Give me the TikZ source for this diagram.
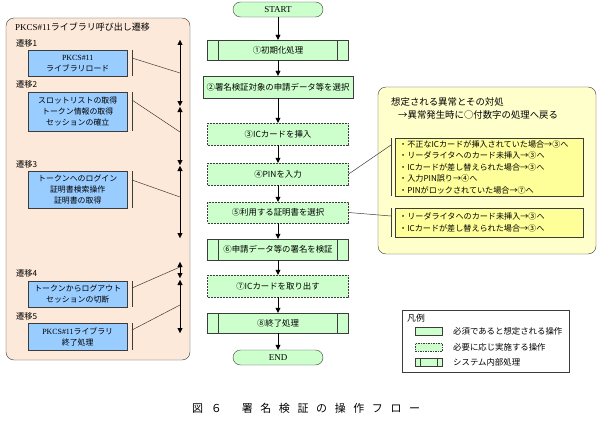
\documentclass[tikz,border=0pt]{standalone}
\usepackage{fontspec}
\setmainfont{Noto Sans CJK JP}
\newfontfamily\lat{Liberation Serif}
\usetikzlibrary{arrows.meta}
\definecolor{cPeach}{RGB}{253,233,217}
\definecolor{cBlue}{RGB}{153,204,255}
\definecolor{cGreen}{RGB}{204,255,204}
\definecolor{cYelPanel}{RGB}{255,255,204}
\definecolor{cYelBox}{RGB}{255,255,153}
\definecolor{cEdge}{RGB}{60,60,60}
\newcommand\capsp{\hspace{7.6pt}}
\tikzset{
  flowbox/.style={draw=cEdge, fill=cGreen, minimum width=141pt, minimum height=22pt, inner sep=0pt, font=\fontsize{8.4}{10}\selectfont},
  optbox/.style={flowbox, dash pattern=on 2pt off 1pt},
  sysbox/.style={flowbox, path picture={
      \draw[cEdge] ([xshift=11pt]path picture bounding box.north west) -- ([xshift=11pt]path picture bounding box.south west)
                   ([xshift=-11pt]path picture bounding box.north east) -- ([xshift=-11pt]path picture bounding box.south east);}},
  termbox/.style={draw=cEdge, fill=cGreen, rounded corners=7.5pt, minimum width=90pt, minimum height=15pt, inner sep=0pt, font=\lat\fontsize{9}{10}\selectfont},
  bluebox/.style={draw=cEdge, fill=cBlue, minimum width=99pt, inner sep=0pt, align=center, anchor=north west, font=\fontsize{7.9}{11}\selectfont},
  steplabel/.style={anchor=west, inner sep=0pt, font=\fontsize{8.2}{10}\selectfont},
  flowarrow/.style={draw=black, -{Triangle[length=5pt,width=5pt]}},
  dblarrow/.style={draw=black, {Triangle[length=5pt,width=5pt]}-{Triangle[length=5pt,width=5pt]}},
  linkline/.style={draw=cEdge, line width=0.5pt},
  itembox/.style={draw=cEdge, fill=cYelBox, anchor=north west, text width=180pt, inner xsep=4pt, inner ysep=0pt, align=left, font=\fontsize{8.1}{11.6}\selectfont},
  legsym/.style={draw=cEdge, fill=cGreen, minimum width=27pt, minimum height=8pt, inner sep=0pt},
  legtext/.style={anchor=west, inner sep=0pt, font=\fontsize{8.4}{10}\selectfont}
}
\begin{document}
\begin{tikzpicture}[x=1pt,y=-1pt]
\useasboundingbox[fill=white] (0,0) rectangle (600,428);

% ---------- left panel ----------
\draw[cEdge, fill=cPeach, rounded corners=8pt] (6,18) rectangle (190,360);
\node[anchor=west, inner sep=0pt, font=\fontsize{9}{10}\selectfont] (ltitle) at (15,27) {{\lat PKCS\#11}ライブラリ呼び出し遷移};
\node[steplabel] (l1) at (16,43) {遷移1};
\node[steplabel] (l2) at (16,84) {遷移2};
\node[steplabel] (l3) at (16,164) {遷移3};
\node[steplabel] (l4) at (16,273) {遷移4};
\node[steplabel] (l5) at (16,316) {遷移5};

\node[bluebox, minimum height=26pt] (t1) at (28,50) {{\lat PKCS\#11}\\ライブラリロード};
\node[bluebox, minimum height=39pt] (t2) at (28,92) {スロットリストの取得\\トークン情報の取得\\セッションの確立};
\node[bluebox, minimum height=37pt] (t3) at (28,171) {トークンへのログイン\\証明書検索操作\\証明書の取得};
\node[bluebox, minimum height=26pt] (t4) at (28,281) {トークンからログアウト\\セッションの切断};
\node[bluebox, minimum height=27pt] (t5) at (28,323) {{\lat PKCS\#11}ライブラリ\\終了処理};

\foreach \t in {t1,t2,t3,t4,t5}
  \draw[linkline] ([xshift=5pt]\t.north east) -- ([xshift=5pt]\t.south east);

\coordinate (d1a) at (132,58);  \coordinate (d1b) at (180,73);
\coordinate (d2a) at (132,100); \coordinate (d2b) at (180,132);
\coordinate (d3a) at (132,180); \coordinate (d3b) at (180,197);
\coordinate (d4a) at (132,288); \coordinate (d4b) at (180,267);
\coordinate (d5a) at (132,330); \coordinate (d5b) at (180,305);
\foreach \n in {1,...,5} \draw[linkline] (d\n a) -- (d\n b);

\coordinate (s1a) at (180,40);  \coordinate (s1b) at (180,106);
\coordinate (s2a) at (180,107); \coordinate (s2b) at (180,165);
\coordinate (s3a) at (180,166); \coordinate (s3b) at (180,238);
\coordinate (s4a) at (180,262); \coordinate (s4b) at (180,278);
\coordinate (s5a) at (180,280); \coordinate (s5b) at (180,333);
\foreach \n in {1,...,5} \draw[dblarrow] (s\n a) -- (s\n b);

% ---------- main flow ----------
\node[termbox] (start) at (278,9.5) {START};
\node[sysbox, minimum height=20pt] (f1) at (278,50) {①初期化処理};
\node[flowbox, minimum width=150pt] (f2) at (278,87) {②署名検証対象の申請データ等を選択};
\node[optbox] (f3) at (278,134) {③ICカードを挿入};
\node[optbox] (f4) at (278,174) {④PINを入力};
\node[optbox, minimum height=21pt] (f5) at (278,212.5) {⑤利用する証明書を選択};
\node[sysbox, minimum height=21pt] (f6) at (278,249.5) {⑥申請データ等の署名を検証};
\node[optbox] (f7) at (278,286) {⑦ICカードを取り出す};
\node[sysbox, minimum height=20pt] (f8) at (278,323) {⑧終了処理};
\node[termbox] (end) at (278,357.5) {END};

\foreach \a/\b in {start/f1,f1/f2,f2/f3,f3/f4,f4/f5,f5/f6,f6/f7,f7/f8,f8/end}
  \draw[flowarrow] (\a.south) -- (\b.north);

% ---------- right panel ----------
\draw[cEdge, fill=cYelPanel, rounded corners=8pt] (378,87) rectangle (596,254);
\node[anchor=west, inner sep=0pt, font=\fontsize{9.4}{11}\selectfont] (rh1) at (391,102) {想定される異常とその対処};
\node[anchor=west, inner sep=0pt, font=\fontsize{9.4}{11}\selectfont] (rh2) at (398,115) {→異常発生時に○付数字の処理へ戻る};

\node[itembox, minimum height=58pt] (e1) at (395,138) {・不正なICカードが挿入されていた場合→③へ\\・リーダライタへのカード未挿入→③へ\\・ICカードが差し替えられた場合→③へ\\・入力PIN誤り→④へ\\・PINがロックされていた場合→⑦へ};
\node[itembox, minimum height=29pt] (e2) at (395,208) {・リーダライタへのカード未挿入→③へ\\・ICカードが差し替えられた場合→③へ};

\draw[linkline] ([xshift=-4pt]e1.north west) -- ([xshift=-4pt]e1.south west);
\draw[linkline] ([xshift=-4pt]e2.north west) -- ([xshift=-4pt]e2.south west);
\coordinate (r1) at (391,145);
\coordinate (r2) at (391,216);
\draw[linkline] (f4.east) -- (r1);
\draw[linkline] (f5.east) -- (r2);

% ---------- legend ----------
\node[draw=cEdge, anchor=north west, minimum width=167pt, minimum height=62pt, inner sep=0pt] (legend) at (402,310) {};
\node[anchor=west, inner sep=0pt, font=\fontsize{8.8}{10}\selectfont] (legtitle) at (407,318) {凡例};
\node[legsym] (g1) at (428.5,331) {};
\node[legsym, dash pattern=on 1.5pt off 1pt] (g2) at (428.5,347) {};
\node[legsym] (g3) at (428.5,362) {};
\draw[cEdge] ([xshift=5pt]g3.north west) -- ([xshift=5pt]g3.south west)
             ([xshift=-5pt]g3.north east) -- ([xshift=-5pt]g3.south east);
\node[legtext] (gt1) at (453,331) {必須であると想定される操作};
\node[legtext] (gt2) at (453,347) {必要に応じ実施する操作};
\node[legtext] (gt3) at (453,362) {システム内部処理};

% ---------- caption ----------
\node[anchor=west, inner sep=0pt, font=\fontsize{11}{13}\selectfont] (caption) at (192,408)
  {図\capsp ６\hspace{20pt}署\capsp 名\capsp 検\capsp 証\capsp の\capsp 操\capsp 作\capsp フ\capsp ロ\capsp ー};
\end{tikzpicture}
\end{document}
